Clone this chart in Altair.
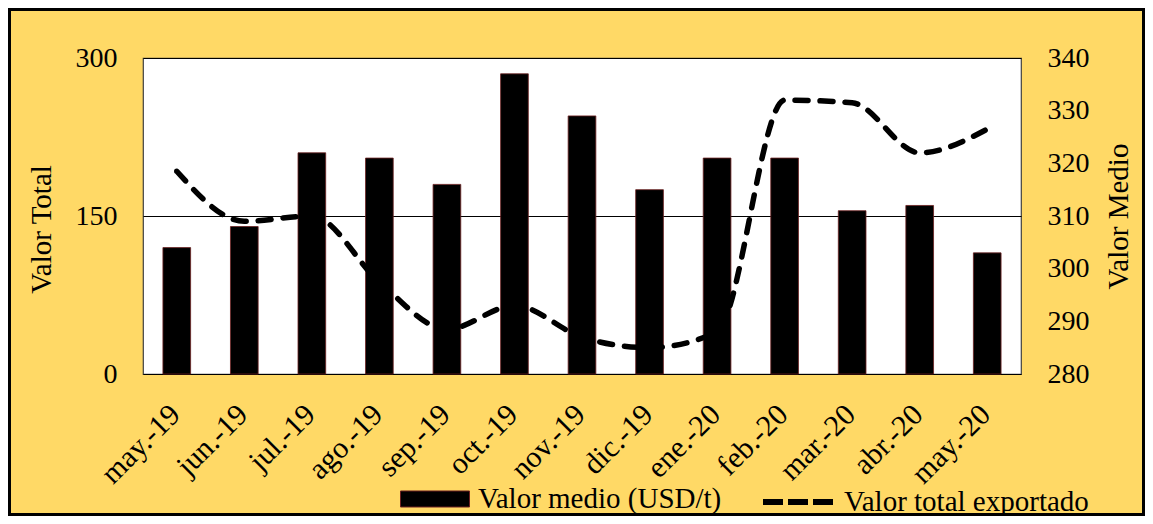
import altair as alt
import pandas as pd

meses = ["may.-19", "jun.-19", "jul.-19", "ago.-19", "sep.-19", "oct.-19", "nov.-19",
         "dic.-19", "ene.-20", "feb.-20", "mar.-20", "abr.-20", "may.-20"]
valor_medio = [120, 140, 210, 205, 180, 285, 245, 175, 205, 205, 155, 160, 115]
valor_total = [318.5, 309, 310, 297.5, 288.5, 293, 287, 285, 288, 332, 331.5, 322, 326.5]

serie_barras = "Valor medio (USD/t)"
serie_linea = "Valor total exportado"

df = pd.DataFrame({
    "mes": meses,
    "medio": valor_medio,
    "total": valor_total,
    "sb": [serie_barras] * len(meses),
    "sl": [serie_linea] * len(meses),
})

FONT = "Liberation Serif"
W, H = 878, 316
PAD = {"left": 135, "top": 50, "right": 124, "bottom": 142}

xenc = alt.X(
    "mes:N", sort=meses,
    scale=alt.Scale(paddingInner=0.59, paddingOuter=0.295),
    axis=alt.Axis(title=None, labelAngle=-45, labelFontSize=30, labelFont=FONT,
                  labelColor="black", labelPadding=25, labelOffset=-12,
                  ticks=False, domain=False, labelOverlap=False),
)

bars = alt.Chart(df).mark_bar(stroke="#6b2020", strokeWidth=0.8).encode(
    x=xenc,
    y=alt.Y("medio:Q", scale=alt.Scale(domain=[0, 300], nice=False),
            axis=alt.Axis(values=[0, 150, 300], title="Valor Total", orient="left",
                          labelFontSize=28, labelFont=FONT, labelColor="black",
                          labelPadding=26, ticks=False, domain=False,
                          grid=True, gridColor="black", gridWidth=1,
                          titleFontSize=29, titleFont=FONT, titleFontWeight="normal",
                          titleColor="black", titleAngle=270, titleX=-93, titleY=171,
                          titleBaseline="alphabetic", titleAlign="center")),
    fill=alt.Fill("sb:N", scale=alt.Scale(range=["black"]),
                  legend=alt.Legend(title=None, orient="none", legendX=257, legendY=406,
                                    symbolType="M-1,-0.232H1V0.232H-1Z", symbolSize=4761,
                                    symbolStrokeColor="#6b2020", symbolStrokeWidth=1,
                                    symbolFillColor="black",
                                    labelFontSize=29, labelFont=FONT, labelColor="black",
                                    labelOffset=8, padding=0, labelLimit=400)),
)

line = alt.Chart(df).mark_line(strokeWidth=5.5, strokeCap="round", strokeDash=[13, 12],
                               interpolate="monotone").encode(
    x=xenc,
    y=alt.Y("total:Q", scale=alt.Scale(domain=[280, 340], nice=False),
            axis=alt.Axis(values=[280, 290, 300, 310, 320, 330, 340], title="Valor Medio",
                          orient="right", labelFontSize=28, labelFont=FONT,
                          labelColor="black", labelPadding=26, ticks=False, domain=False,
                          grid=False, titleFontSize=29, titleFont=FONT,
                          titleFontWeight="normal", titleColor="black", titleAngle=270,
                          titleX=106, titleY=158, titleBaseline="alphabetic",
                          titleAlign="center")),
    stroke=alt.Stroke("sl:N", scale=alt.Scale(range=["black"]),
                      legend=alt.Legend(title=None, orient="none", legendX=617,
                                        legendY=406, symbolType="stroke",
                                        symbolSize=4900, symbolStrokeWidth=6,
                                        symbolDash=[20, 5],
                                        labelFontSize=29, labelFont=FONT,
                                        labelColor="black", labelOffset=8,
                                        padding=0, labelLimit=400)),
)

frame = alt.Chart(pd.DataFrame({"k": [0]})).mark_rect(
    fill="transparent", stroke="black", strokeWidth=3
).encode(
    x=alt.value(-PAD["left"] + 1.5), x2=alt.value(W + PAD["right"] - 1.5),
    y=alt.value(-PAD["top"] + 1.5), y2=alt.value(H + PAD["bottom"] - 1.5),
)

chart = alt.layer(bars, line, frame).resolve_scale(
    y="independent"
).properties(
    width=W, height=H, padding=PAD,
    autosize=alt.AutoSizeParams(type="none"),
    background="#FFD966",
).configure(
    font=FONT,
    view=alt.ViewConfig(fill="white", stroke="#404040", strokeWidth=1.2),
)

chart.save("out.html", embed_options={"renderer": "svg", "actions": False})
